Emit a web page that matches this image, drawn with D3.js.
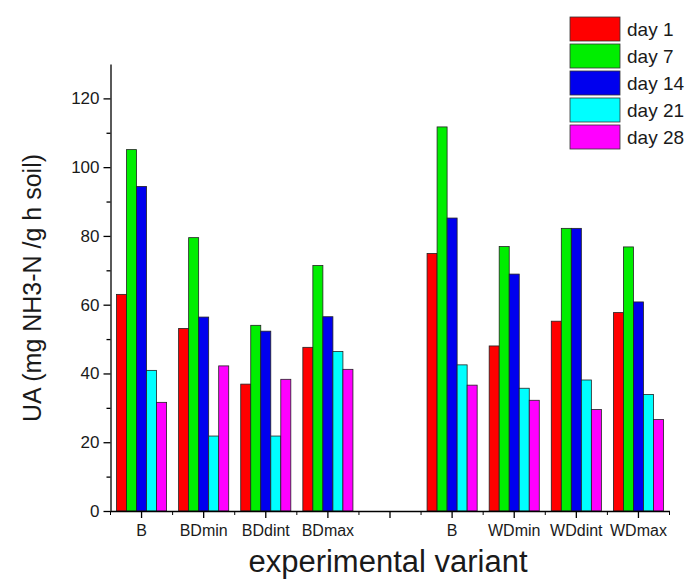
<!DOCTYPE html>
<html>
<head>
<meta charset="utf-8">
<script src="https://cdn.jsdelivr.net/npm/d3@7"></script>
<style>
    body { margin: 0; background: #fff; }
    text { font-family: "Liberation Sans", Arial, sans-serif; fill: #1a1a1a; }
</style>
</head>
<body>
<div class="bar-chart-container"></div>
<script>
// Data.
const categories = ['B1', 'BDmin', 'BDdint', 'BDmax', 'gap', 'B2', 'WDmin', 'WDdint', 'WDmax'];
const categoryLabels = ['B', 'BDmin', 'BDdint', 'BDmax', '', 'B', 'WDmin', 'WDdint', 'WDmax'];
const seriesNames = ['day 1', 'day 7', 'day 14', 'day 21', 'day 28'];
const seriesColors = ['#ff0000', '#00ee00', '#0000ee', '#00ffff', '#ff00ff'];
const day1 = [63.0, 53.1, 36.9, 47.6, null, 74.9, 48.0, 55.2, 57.7];
const day7 = [105.1, 79.5, 54.0, 71.4, null, 111.7, 76.9, 82.2, 76.8];
const day14 = [94.4, 56.4, 52.3, 56.5, null, 85.2, 68.9, 82.2, 60.8];
const day21 = [40.9, 21.8, 21.8, 46.4, null, 42.5, 35.7, 38.1, 33.9];
const day28 = [31.6, 42.2, 38.3, 41.2, null, 36.6, 32.2, 29.5, 26.6];
const yTicks = [0, 20, 40, 60, 80, 100, 120];
const yMinorTicks = [10, 30, 50, 70, 90, 110];

const seriesValues = [day1, day7, day14, day21, day28];

const svg = d3
    .select('.bar-chart-container')
    .append('svg')
    .attr('width', 693)
    .attr('height', 586);

const area = {left: 110.5, right: 669.5, top: 64, bottom: 511};

// Scales
const xScale = d3
    .scaleBand()
    .domain(categories)
    .range([area.left, area.right])
    .padding(0);

const innerScale = d3
    .scaleBand()
    .domain(seriesNames)
    .range([0, xScale.bandwidth()])
    .paddingInner(0)
    .paddingOuter(0.6);

const yScale = d3
    .scaleLinear()
    .domain([0, 130])
    .range([area.bottom, area.top]);

// Bars
const rows = [];
categories.forEach((cat, i) => {
    seriesNames.forEach((name, j) => {
        const v = seriesValues[j][i];
        if (v !== null) rows.push({cat: cat, name: name, value: v, color: seriesColors[j]});
    });
});

svg.append('g')
    .selectAll('.bar')
    .data(rows)
    .enter()
    .append('rect')
    .attr('class', 'bar')
    .attr('x', d => xScale(d.cat) + innerScale(d.name))
    .attr('width', innerScale.bandwidth())
    .attr('y', d => yScale(d.value))
    .attr('height', d => yScale(0) - yScale(d.value))
    .style('fill', d => d.color)
    .style('stroke', '#222')
    .style('stroke-width', 0.8);

// Y axis
const axisY = d3.axisLeft(yScale)
    .tickValues(yTicks)
    .tickSize(7)
    .tickPadding(4)
    .tickSizeOuter(0);

const gy = svg.append('g')
    .attr('transform', `translate(${area.left}, 0)`)
    .call(axisY);
gy.selectAll('text').style('font-size', '17px');

svg.append('g')
    .attr('transform', `translate(${area.left}, 0)`)
    .call(d3.axisLeft(yScale).tickValues(yMinorTicks).tickSize(4).tickFormat('').tickSizeOuter(0))
    .select('.domain').remove();

// X axis
const axisX = d3.axisBottom(xScale)
    .tickFormat((d, i) => categoryLabels[i])
    .tickSize(7)
    .tickPadding(7)
    .tickSizeOuter(0);

const gx = svg.append('g')
    .attr('transform', `translate(0, ${area.bottom})`)
    .call(axisX);
gx.selectAll('text').style('font-size', '16px');

const edges = categories.map(c => xScale(c)).concat([area.right]);
svg.append('g')
    .selectAll('line')
    .data(edges)
    .enter()
    .append('line')
    .attr('x1', d => d)
    .attr('x2', d => d)
    .attr('y1', area.bottom)
    .attr('y2', area.bottom + 4)
    .style('stroke', '#000');

svg.selectAll('.domain, .tick line').style('stroke', '#000').style('stroke-width', 1.3);

// Axis titles
svg.append('text')
    .attr('transform', `translate(41, 288) rotate(-90)`)
    .attr('text-anchor', 'middle')
    .style('font-size', '25px')
    .text('UA (mg NH3-N /g h soil)');

svg.append('text')
    .attr('x', 388)
    .attr('y', 572)
    .attr('text-anchor', 'middle')
    .style('font-size', '31px')
    .text('experimental variant');

// Legend
const legend = svg.append('g')
    .attr('transform', 'translate(570, 17)')
    .selectAll('g')
    .data(seriesNames)
    .enter()
    .append('g')
    .attr('transform', (d, i) => `translate(0, ${i * 27})`);

legend.append('rect')
    .attr('width', 50)
    .attr('height', 24)
    .style('fill', (d, i) => seriesColors[i])
    .style('stroke', '#333')
    .style('stroke-width', 0.8);

legend.append('text')
    .attr('x', 57)
    .attr('y', 19)
    .style('font-size', '19px')
    .text(d => d);
</script>
</body>
</html>
